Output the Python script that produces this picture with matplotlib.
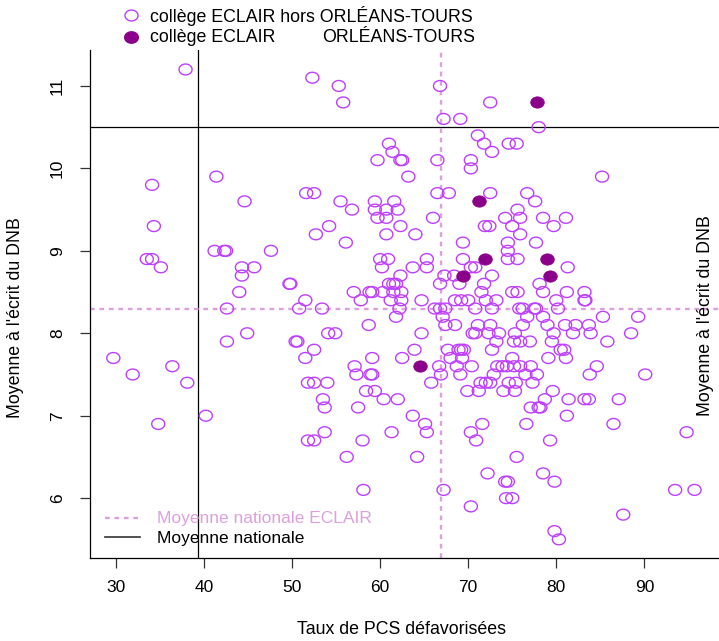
import matplotlib
matplotlib.use("Agg")
import matplotlib.pyplot as plt
import numpy as np
from matplotlib.path import Path
from matplotlib.lines import Line2D

plt.rcParams['font.family'] = ['Liberation Sans', 'DejaVu Sans']

# ---- data: collèges ECLAIR hors Orléans-Tours ----
x_hors = [
    37.9,
    52.3,
    55.3, 66.8,
    55.8, 72.5,
    67.2, 69.1,
    78.0,
    71.1,
    61.0, 71.8, 74.6, 75.5,
    61.4, 72.7,
    59.7, 62.3, 62.5, 66.5, 70.3,
    70.3,
    41.4, 63.2, 85.2,
    34.1,
    51.6, 52.5, 66.5, 67.8, 72.5, 76.7,
    44.6, 55.5, 59.4, 61.6, 77.6,
    56.8, 59.4, 60.7, 62.0, 75.6,
    59.7, 60.7, 66.0, 74.2, 75.9, 78.5, 81.1,
    34.3, 54.2, 62.3, 71.9, 72.4, 75.0, 79.7,
    52.7, 60.7, 64.0, 75.9,
    56.1, 69.4, 74.5, 77.7,
    41.2, 42.3, 42.5, 47.6, 74.5,
    33.5, 34.1, 60.0, 60.9, 65.3, 69.4, 74.5, 75.6,
    35.1, 44.3, 45.7, 60.2, 63.7, 65.3, 70.3, 70.8, 81.3,
    44.3, 62.3, 67.3, 68.4, 72.7,
    49.7, 49.8, 61.0, 61.5, 61.8, 66.8, 69.0, 71.8, 78.1,
    44.0, 57.0, 58.8, 59.1, 60.3, 61.5, 62.4, 71.5, 75.0, 75.6, 78.5, 81.2, 83.2,
    51.5, 57.8, 61.2, 62.4, 64.7, 68.5, 69.2, 70.0, 72.0, 73.2, 80.0, 83.2, 83.3,
    42.6, 50.8, 53.4, 62.2, 66.2, 66.8, 67.4, 70.8, 72.7, 75.8, 76.2, 77.5, 77.7, 80.2,
    61.8, 67.1, 76.7, 78.5, 85.3, 89.3,
    58.7, 67.4, 68.5, 71.1, 72.5, 76.2, 79.0, 81.0, 82.2, 83.7,
    44.9, 54.1, 54.9, 64.7, 70.5, 70.8, 72.3, 73.5, 75.3, 79.7, 81.9, 83.9, 88.5,
    42.6, 50.4, 50.6, 73.2, 75.2, 75.9, 77.0, 79.5, 85.8,
    52.5, 63.9, 67.7, 68.9, 69.2, 69.5, 72.7, 80.5, 80.9,
    29.7, 51.5, 59.1, 62.5, 68.0, 69.3, 75.0, 79.1, 81.1,
    36.4, 57.1, 66.7, 68.7, 70.4, 73.3, 73.9, 74.4, 75.2, 75.9, 77.1, 84.6,
    31.9, 57.3, 58.9, 59.1, 66.9, 69.1, 72.9, 76.5, 77.8, 83.8, 90.1,
    38.1, 51.8, 52.5, 54.0, 65.8, 71.4, 72.0, 72.5, 74.6, 75.4, 77.3,
    58.4, 59.4, 69.9, 71.2, 74.0, 75.3, 79.6,
    53.5, 60.4, 62.0, 78.7, 81.4, 83.2, 83.7, 87.1,
    53.7, 57.5, 77.1, 78.0, 78.2,
    40.2, 63.7, 81.2,
    34.8, 65.1, 71.6, 76.6, 86.5,
    53.7, 61.3, 65.3, 70.3, 94.8,
    51.8, 52.5, 58.0, 70.9, 79.3,
    56.2, 64.2, 75.5,
    72.2, 78.5,
    74.2, 74.5, 79.8,
    58.1, 67.2, 93.5, 95.7,
    74.3, 75.0,
    70.3,
    87.6,
    79.8,
    80.3,
]
y_hors = (
    [11.2] * 1 + [11.1] * 1 + [11.0] * 2 + [10.8] * 2 + [10.6] * 2 + [10.5] * 1
    + [10.4] * 1 + [10.3] * 4 + [10.2] * 2 + [10.1] * 5 + [10.0] * 1
    + [9.9] * 3 + [9.8] * 1 + [9.7] * 6 + [9.6] * 5 + [9.5] * 5 + [9.4] * 7
    + [9.3] * 7 + [9.2] * 4 + [9.1] * 4 + [9.0] * 5
    + [8.9] * 8 + [8.8] * 9 + [8.7] * 5 + [8.6] * 9 + [8.5] * 13 + [8.4] * 13
    + [8.3] * 14 + [8.2] * 6 + [8.1] * 10 + [8.0] * 13
    + [7.9] * 9 + [7.8] * 9 + [7.7] * 9 + [7.6] * 12 + [7.5] * 11 + [7.4] * 11
    + [7.3] * 7 + [7.2] * 8 + [7.1] * 5 + [7.0] * 3
    + [6.9] * 5 + [6.8] * 5 + [6.7] * 5 + [6.5] * 3 + [6.3] * 2 + [6.2] * 3
    + [6.1] * 4 + [6.0] * 2 + [5.9] * 1 + [5.8] * 1 + [5.6] * 1 + [5.5] * 1
)

# ---- data: collèges ECLAIR Orléans-Tours ----
x_ot = [77.8, 71.2, 71.9, 79.0, 69.4, 79.3, 64.5]
y_ot = [10.8, 9.6, 8.9, 8.9, 8.7, 8.7, 7.6]

# reference lines
moy_nat_x = 39.3
moy_nat_y = 10.5
moy_eclair_x = 66.9
moy_eclair_y = 8.3

x_ticks = [30, 40, 50, 60, 70, 80, 90]
y_ticks = [6, 7, 8, 9, 10, 11]

OPEN_COL = '#BF3EFF'
FILL_COL = '#8B008B'
PLUM = '#DDA0DD'

W, H = 719, 641
fig = plt.figure(figsize=(W / 100, H / 100), dpi=100)
ax = fig.add_axes([90 / W, (H - 558) / H, (W - 90) / W, 508 / H])
ax.set_xlim(27.05, 98.48)
ax.set_ylim(5.274, 11.436)

t = np.linspace(0, 2 * np.pi, 64)
ell = Path(np.column_stack([1.2 * np.cos(t), np.sin(t)]), closed=True)

ax.axvline(moy_nat_x, color='black', lw=0.9, zorder=1)
ax.axhline(moy_nat_y, color='black', lw=0.9, zorder=1)
ax.axvline(moy_eclair_x, color=PLUM, lw=1.7, ls=(0, (2, 2)), zorder=1)
ax.axhline(moy_eclair_y, color=PLUM, lw=1.7, ls=(0, (2, 2)), zorder=1)

ax.scatter(x_hors, y_hors, s=9.4 ** 2, marker=ell, facecolors='none',
           edgecolors=OPEN_COL, linewidths=1.0, zorder=2)
ax.scatter(x_ot, y_ot, s=9.8 ** 2, marker=ell, facecolors=FILL_COL,
           edgecolors=FILL_COL, linewidths=0.5, zorder=3)

for s in ['top', 'right']:
    ax.spines[s].set_visible(False)
for s in ['left', 'bottom']:
    ax.spines[s].set_color('black')
    ax.spines[s].set_linewidth(0.9)

ax.set_xticks(x_ticks)
ax.set_xticklabels([str(v) for v in x_ticks])
ax.set_yticks(y_ticks)
ax.set_yticklabels([str(v) for v in y_ticks], rotation=90, va='center')
ax.tick_params(axis='both', length=7, width=0.9, labelsize=12.5, color='#333333')
ax.tick_params(axis='x', pad=9)
ax.tick_params(axis='y', pad=11)


def fx(px):
    return px / W


def fy(py):
    return 1 - py / H


fig.text(fx(16), fy(318), "Moyenne à l'écrit du DNB", rotation=90,
         ha='center', va='center', fontsize=12.8)
fig.text(fx(706), fy(316), "Moyenne à l'écrit du DNB", rotation=90,
         ha='center', va='center', fontsize=12.8)
fig.text(fx(402), fy(630), "Taux de PCS défavorisées",
         ha='center', va='center', fontsize=12.8)

# top legend
fig.add_artist(Line2D([fx(131)], [fy(15)], marker=ell, ms=9.4, mfc='none',
                      mec=OPEN_COL, mew=1.0, ls='none'))
fig.add_artist(Line2D([fx(131)], [fy(37)], marker=ell, ms=9.8, mfc=FILL_COL,
                      mec=FILL_COL, ls='none'))
fig.text(fx(150), fy(16), "collège ECLAIR hors ORLÉANS-TOURS",
         ha='left', va='center', fontsize=12.8)
fig.text(fx(150), fy(38), "collège ECLAIR",
         ha='left', va='center', fontsize=12.8)
fig.text(fx(475), fy(38), "ORLÉANS-TOURS",
         ha='right', va='center', fontsize=12.8)

# bottom legend
fig.add_artist(Line2D([fx(105), fx(140)], [fy(518), fy(518)], color=PLUM,
                      lw=1.7, ls=(0, (2, 2))))
fig.add_artist(Line2D([fx(105), fx(140)], [fy(537), fy(537)], color='#333333',
                      lw=1.2))
fig.text(fx(157), fy(519), "Moyenne nationale ECLAIR", color=PLUM,
         ha='left', va='center', fontsize=12.5)
fig.text(fx(157), fy(538), "Moyenne nationale", color='black',
         ha='left', va='center', fontsize=12.5)

fig.savefig('out.png', dpi=100)
